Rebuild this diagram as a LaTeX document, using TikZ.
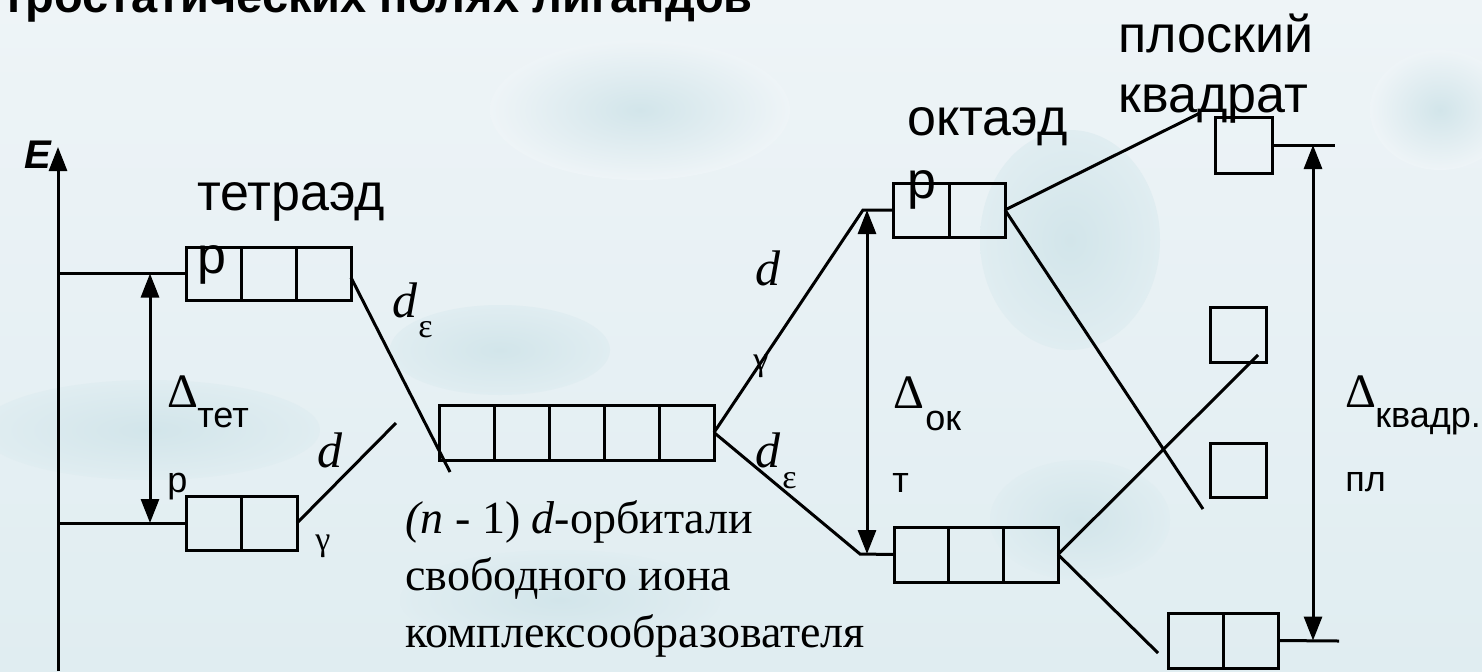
\documentclass[tikz,border=0pt]{standalone}
\usepackage{fontspec}
\setmainfont{Liberation Serif}
\setsansfont{Liberation Sans}
\usetikzlibrary{arrows.meta,calc}

\definecolor{bgtop}{RGB}{238,244,247}
\definecolor{bgbot}{RGB}{224,237,241}
\definecolor{blob}{RGB}{210,229,234}

% dividers inside an orbital box: #1 node name, #2 number of cells
\newcommand\orbcells[2]{%
  \pgfmathtruncatemacro\lastk{#2-1}%
  \foreach \k in {1,...,\lastk}{%
    \draw[line] ($(#1.north west)!\k/#2!(#1.north east)$) -- ($(#1.south west)!\k/#2!(#1.south east)$);}}

\begin{document}
\begin{tikzpicture}[x=0.5pt,y=-0.5pt,
  line/.style={line width=1.5pt},
  orb/.style={draw, line width=1.5pt, inner sep=0pt, outer sep=0pt, minimum height=27pt},
  gaparrow/.style={line width=1.5pt, {Triangle[length=12pt,width=9pt]}-{Triangle[length=12pt,width=9pt]}},
  axarrow/.style={line width=1.5pt, -{Triangle[length=12pt,width=9pt]}},
  ttl/.style={font=\sffamily\bfseries\fontsize{23.5}{28}\selectfont, inner sep=0pt, anchor=base west},
  elbl/.style={font=\sffamily\bfseries\itshape\fontsize{20}{24}\selectfont, inner sep=0pt, anchor=base west},
  lbl/.style={font=\sffamily\fontsize{26}{31}\selectfont, inner sep=0pt, anchor=base west},
  sub/.style={font=\sffamily\fontsize{18}{21}\selectfont, inner sep=0pt, anchor=base west},
  dlt/.style={font=\fontsize{24}{28}\selectfont, inner sep=0pt, anchor=base west},
  dit/.style={font=\itshape\fontsize{25}{28}\selectfont, inner sep=0pt, anchor=base west},
  dsub/.style={font=\fontsize{17}{20}\selectfont, inner sep=0pt, anchor=base west},
  capt/.style={font=\fontsize{23}{27}\selectfont, inner sep=0pt, anchor=base west}]

% background
\useasboundingbox (0,0) rectangle (1482,671);
\shade[top color=bgtop, bottom color=bgbot] (0,0) rectangle (1482,671);
\shade[inner color=blob, outer color=bgtop] (640,110) ellipse [x radius=150, y radius=70];
\shade[inner color=blob, outer color=bgbot] (1070,240) ellipse [x radius=90, y radius=110];
\shade[inner color=blob, outer color=bgbot] (500,350) ellipse [x radius=110, y radius=45];
\shade[inner color=blob, outer color=bgbot] (150,430) ellipse [x radius=170, y radius=50];
\shade[inner color=blob, outer color=bgbot] (1080,520) ellipse [x radius=90, y radius=60];
\shade[inner color=blob, outer color=bgtop] (1440,110) ellipse [x radius=70, y radius=60];
\shade[inner color=blob, outer color=bgbot] (560,600) ellipse [x radius=160, y radius=50];

% heading
\node[ttl] (ttl) at (2,12) {тростатических полях лигандов};

% energy axis
\coordinate (ax0) at (58,671);
\coordinate (ax1) at (58,147);
\draw[axarrow] (ax0) -- (ax1);
\node[elbl] (E) at (24,168) {E};

% orbital boxes
\node[orb, minimum width=82.5pt, minimum height=26.5pt] (T3) at (268.5,273.5) {};
\orbcells{T3}{3}
\node[orb, minimum width=55.5pt] (T2) at (241.5,523) {};
\orbcells{T2}{2}
\node[orb, minimum width=137.5pt, minimum height=27.5pt] (C5) at (576.5,432.5) {};
\orbcells{C5}{5}
\node[orb, minimum width=56pt] (O2) at (949,210) {};
\orbcells{O2}{2}
\node[orb, minimum width=82pt, minimum height=27.5pt] (O3) at (976,554.5) {};
\orbcells{O3}{3}
\node[orb, minimum width=28.5pt, minimum height=28pt] (S1) at (1243.5,145) {};
\node[orb, minimum width=28pt, minimum height=27.5pt] (S2) at (1238,334.5) {};
\node[orb, minimum width=28pt, minimum height=27pt] (S3) at (1238,470) {};
\node[orb, minimum width=55pt, minimum height=27.5pt] (B2) at (1223,640.5) {};
\orbcells{B2}{2}

% tetrahedral levels
\draw[line] (ax0 |- T3.west) -- (T3.west);
\draw[line] (ax0 |- T2.west) -- (T2.west);
\coordinate (gt) at (150,0);
\draw[gaparrow] (gt |- T3.west) -- (gt |- T2.west);
\coordinate (te1) at (450,472);
\coordinate (te2) at (396,423);
\draw[line] ($(T3.east)+(0,4)$) -- (te1);
\draw[line] (T2.east) -- (te2);

% octahedral levels
\coordinate (ov1) at (863,210);
\coordinate (ov2) at (860,554);
\draw[line] (C5.east) -- (ov1) -- (O2.west);
\draw[line] (C5.east) -- (ov2) -- (O3.west);
\coordinate (go) at (867,0);
\draw[gaparrow] (go |- ov1) -- (go |- ov2);

% square planar levels
\coordinate (sq1) at (1200,113);
\coordinate (sq2) at (1203,509);
\coordinate (sq3) at (1258,355);
\coordinate (sq4) at (1158,653);
\draw[line] (O2.east) -- (sq1);
\draw[line] (O2.east) -- (sq2);
\draw[line] (O3.east) -- (sq3);
\draw[line] (O3.east) -- (sq4);
\coordinate (sqt) at (1335,145);
\coordinate (sqb) at (1339,641);
\draw[line] (S1.east) -- (sqt);
\draw[line] (B2.east) -- (sqb);
\coordinate (gs) at (1313,0);
\draw[gaparrow] (gs |- S1.east) -- (gs |- B2.east);

% geometry names
\node[lbl] (tetA) at (197,210) {тетраэд};
\node[lbl] (tetB) at (197,273) {р};
\node[lbl] (octA) at (907,135) {октаэд};
\node[lbl] (octB) at (907,198) {р};
\node[lbl] (sqA) at (1118,52) {плоский};
\node[lbl] (sqB) at (1118,112) {квадрат};

% splitting energies
\node[dlt] (dT) at (167,407) {Δ};
\node[sub] (dTa) at (197,427) {тет};
\node[sub] (dTb) at (167,492) {р};
\node[dlt] (dO) at (893,408) {Δ};
\node[sub] (dOa) at (925,430) {ок};
\node[sub] (dOb) at (892,492) {т};
\node[dlt] (dS) at (1345,407) {Δ};
\node[sub] (dSa) at (1375,427) {квадр.};
\node[sub] (dSb) at (1345,491) {пл};

% orbital set labels
\node[dit] (de1) at (392,317) {d};
\node[dsub] (de1s) at (418,337) {ε};
\node[dit] (dg1) at (317,467) {d};
\node[dsub] (dg1s) at (315,550) {γ};
\node[dit] (dg2) at (755,285) {d};
\node[dsub] (dg2s) at (753,370) {γ};
\node[dit] (de2) at (755,467) {d};
\node[dsub] (de2s) at (782,488) {ε};

% free ion caption
\node[capt] (c1) at (405,533) {\textit{(n} - 1) \textit{d}-орбитали};
\node[capt] (c2) at (405,590) {свободного иона};
\node[capt] (c3) at (405,647) {комплексообразователя};
\end{tikzpicture}
\end{document}
